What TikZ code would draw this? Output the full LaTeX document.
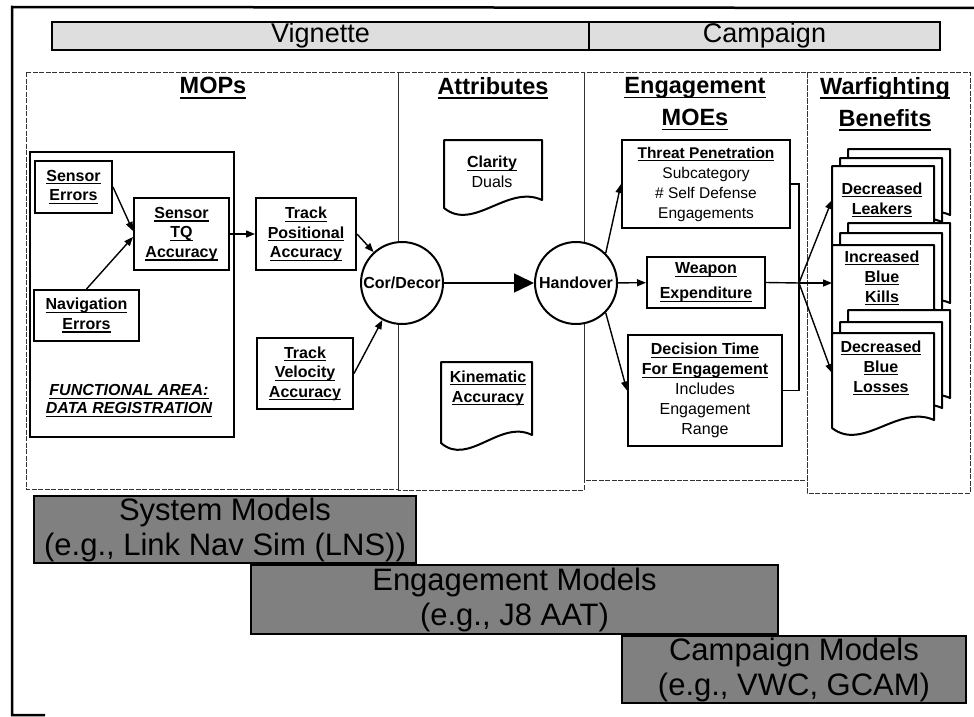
\documentclass[tikz,border=0pt]{standalone}
\usepackage{fontspec}
\setmainfont{Liberation Sans}
\usetikzlibrary{arrows.meta,calc}

% thick underline for labels and titles
\newcommand\ulx[1]{\setbox0=\hbox{#1}\rlap{\rule[-3.3pt]{\wd0}{1.4pt}}\box0}
\newcommand\ulT[1]{\setbox0=\hbox{#1}\rlap{\rule[-4.6pt]{\wd0}{1.8pt}}\box0}

% page with a wavy lower edge: x, y (top left), width, height at the left side
\newcommand\docpage[4]{%
  \draw[docline] (#1,#2) -- ({#1+#3},#2) -- ({#1+#3},{#2+#4-8})
    .. controls ({#1+0.65*#3},{#2+#4-24}) and ({#1+0.3*#3},{#2+#4+24}) ..
    (#1,{#2+#4}) -- cycle;}

\tikzset{
  frameline/.style={line width=2.5pt},
  panel/.style={draw=black!80, line width=0.8pt, dash pattern=on 5pt off 1.5pt},
  header/.style={draw, line width=1.3pt, fill=black!13, inner sep=0pt,
    font=\fontsize{27}{30}\selectfont},
  title/.style={align=center, inner sep=0pt,
    font=\fontsize{23.5}{32}\selectfont\bfseries},
  box/.style={draw, line width=2pt, fill=white, inner sep=0pt, align=center,
    font=\fontsize{16}{19.5}\selectfont\bfseries},
  label/.style={align=center, inner sep=0pt,
    font=\fontsize{16}{20}\selectfont\bfseries},
  circ/.style={circle, draw, line width=2pt, fill=white, minimum size=82pt,
    inner sep=0pt, font=\fontsize{16}{18}\selectfont\bfseries},
  docline/.style={draw, line width=2pt, fill=white, line join=round},
  conn/.style={line width=1.4pt, -{Triangle[length=9pt,width=7pt]}},
  bigconn/.style={line width=1.6pt, -{Triangle[length=20pt,width=19pt]}},
  plain/.style={line width=1.4pt},
  model/.style={draw, line width=1.5pt, fill=black!50, inner sep=0pt,
    align=center, font=\fontsize{31}{35}\selectfont},
}

\begin{document}
\begin{tikzpicture}[x=1pt,y=-1pt]
\useasboundingbox (0,0) rectangle (974,717);
\fill[white] (0,0) rectangle (974,717);

% outer frame of the slide
\draw[frameline] (45,715) -- (12,715) -- (12,7) -- (974,8);

% Vignette / Campaign header
\node[header, minimum width=537pt, minimum height=28pt] (vig) at (320.5,36) {Vignette};
\node[header, minimum width=351pt, minimum height=28pt] (camp) at (764.5,36) {Campaign};

% dashed panels
\draw[panel] (26,72) rectangle (398,489);
\draw[panel] (398,72) rectangle (584,490);
\draw[panel] (584,72) rectangle (807,480);
\draw[panel] (807,72) rectangle (970,493);

% panel titles
\node[title] (tmop) at (213,88) {\ulT{MOPs}};
\node[title] (tatt) at (493,88) {\ulT{Attributes}};
\node[title] (teng) at (695,104) {\ulT{Engagement}\\\ulT{MOEs}};
\node[title] (twar) at (885,104) {\ulT{Warfighting}\\\ulT{Benefits}};

% MOPs: functional area frame and its boxes
\draw[line width=2pt] (30,152) rectangle (234,437);
\node[box, minimum width=77pt, minimum height=52pt] (se) at (73.5,187) {\ulx{Sensor}\\\ulx{Errors}};
\node[box, minimum width=105pt, minimum height=51pt] (nav) at (86.5,315.5) {\ulx{Navigation}\\\ulx{Errors}};
\node[box, minimum width=95pt, minimum height=72pt] (tq) at (181.5,234) {\ulx{Sensor}\\\ulx{TQ}\\\ulx{Accuracy}};
\node[box, minimum width=100pt, minimum height=72pt] (tp) at (306,234) {\ulx{Track}\\\ulx{Positional}\\\ulx{Accuracy}};
\node[box, minimum width=96pt, minimum height=71pt] (tv) at (305,373.5) {\ulx{Track}\\\ulx{Velocity}\\\ulx{Accuracy}};
\node[label, font=\fontsize{16}{18}\selectfont\bfseries\itshape] (fa) at (129,401)
  {\ulx{FUNCTIONAL AREA:}\\\ulx{DATA REGISTRATION}};

% correlation and handover
\node[circ] (cd) at (402,283) {Cor/Decor};
\node[circ] (ho) at (576,283) {Handover};

% attribute documents
\docpage{444}{140}{98}{68}
\node[label] (clar) at (492,172) {\ulx{Clarity}\\{\mdseries Duals}};
\docpage{441}{362}{91}{81}
\node[label] (kin) at (488,388) {\ulx{Kinematic}\\\ulx{Accuracy}};

% engagement MOEs
\node[box, minimum width=168pt, minimum height=88pt, font=\fontsize{15.5}{20}\selectfont\bfseries] (threat) at (706,184)
  {\ulx{Threat Penetration}\\{\mdseries Subcategory}\\{\mdseries\# Self Defense}\\{\mdseries Engagements}};
\node[box, minimum width=118pt, minimum height=51pt, font=\fontsize{16}{25}\selectfont\bfseries] (wp) at (706,282.5)
  {\ulx{Weapon}\\\ulx{Expenditure}};
\node[box, minimum width=154pt, minimum height=111pt, font=\fontsize{16}{20}\selectfont\bfseries] (dec) at (705,390.5)
  {\ulx{Decision Time}\\\ulx{For Engagement}\\{\mdseries Includes}\\{\mdseries Engagement}\\{\mdseries Range}};

% warfighting benefit stacks
\docpage{848}{149}{102}{74}
\docpage{840}{158}{102}{72}
\docpage{832}{166}{102}{95}
\node[label] (leak) at (882,200) {\ulx{Decreased}\\\ulx{Leakers}};
\docpage{848}{223}{102}{88}
\docpage{840}{233}{102}{87}
\docpage{832}{245}{102}{95}
\node[label] (kill) at (882,278) {\ulx{Increased}\\\ulx{Blue}\\\ulx{Kills}};
\docpage{848}{310}{102}{96}
\docpage{840}{322}{102}{94}
\docpage{832}{333}{102}{95}
\node[label] (loss) at (881,368) {\ulx{Decreased}\\\ulx{Blue}\\\ulx{Losses}};

\coordinate (leakin) at (832,200);
\coordinate (killin) at (832,283);
\coordinate (lossin) at (832,373);
\coordinate (fan) at (799,283);

% connectors
\draw[conn] (se.east) -- ($(tq.west)+(0,-3)$);
\draw[conn] (nav.north) -- ($(tq.west)+(0,3)$);
\draw[conn] (tq) -- (tp);
\draw[conn] (tp.east) -- (cd);
\draw[conn] (tv.east) -- (cd);
\draw[bigconn] (cd) -- (ho);
\draw[conn] (ho.45) -- (threat.west);
\draw[conn] (ho) -- (wp);
\draw[conn] (ho.-45) -- (dec.west);
\draw[plain] (threat.east) -| (fan) |- (dec.east);
\draw[plain] (wp.east) -- (fan);
\draw[conn] (fan) -- (leakin);
\draw[conn] (fan) -- (killin);
\draw[conn] (fan) -- (lossin);

% model bars
\node[model, minimum width=382pt, minimum height=67pt] (sysm) at (225,529.5)
  {System Models\\(e.g., Link Nav Sim (LNS))};
\node[model, minimum width=527pt, minimum height=69pt] (engm) at (514.5,599.5)
  {Engagement Models\\(e.g., J8 AAT)};
\node[model, minimum width=344pt, minimum height=67pt] (campm) at (794,669.5)
  {Campaign Models\\(e.g., VWC, GCAM)};
\end{tikzpicture}
\end{document}
